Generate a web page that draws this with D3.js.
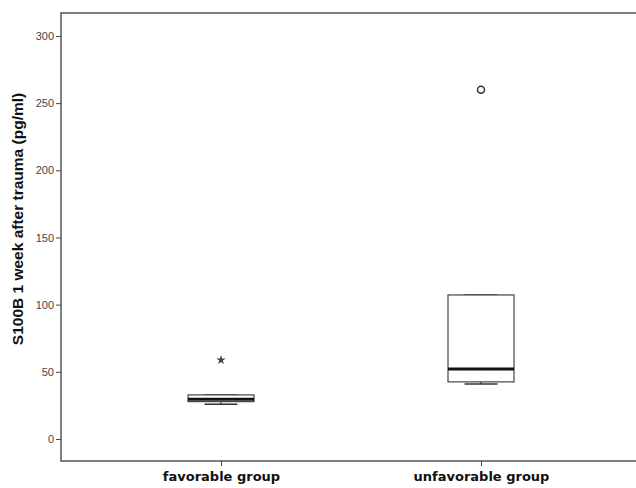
<!DOCTYPE html>
<html><head><meta charset="utf-8">
<script src="https://cdn.jsdelivr.net/npm/d3@7"></script>
<style>html,body{margin:0;padding:0;background:#fff;overflow:hidden}svg{display:block}</style>
</head><body>
<script>
const categories = ["favorable group", "unfavorable group"];
const q1 = [27.8, 42.5];
const median = [29.6, 52.1];
const q3 = [32.8, 107.2];
const whiskerLow = [25.8, 40.9];
const whiskerHigh = [32.8, 107.2];
const extremes = [[58.8], []];   // asterisk
const outliers = [[], [260]];    // circle
const yTicks = [0, 50, 100, 150, 200, 250, 300];

const W = 636, H = 488;
const mLeft = 61, mTop = 13, mRight = 700, mBottom = 461;
const svg = d3.select("body").append("svg").attr("width", W).attr("height", H);

const y = d3.scaleLinear().domain([-16.4, 317.1]).range([mBottom, mTop]);
const x = d3.scalePoint().domain(categories).range([221, 481]);
const boxW = 66;

// frame (right side lies outside the picture)
svg.append("path").attr("d", `M${mRight},${mTop}H${mLeft}V${mBottom}H${mRight}`)
  .attr("fill", "none").attr("stroke", "#555").attr("stroke-width", 1.5);

// y axis
const ya = svg.append("g").attr("transform", `translate(${mLeft},0)`)
  .call(d3.axisLeft(y).tickValues(yTicks).tickSize(5).tickPadding(2).tickFormat(d3.format("d")));
ya.select(".domain").remove();
ya.selectAll("line").attr("stroke", "#444");
ya.selectAll("text").attr("font-family", "Arial, 'Liberation Sans', sans-serif").attr("font-size", 11).attr("fill", "#444");

// x axis
const xa = svg.append("g").attr("transform", `translate(0,${mBottom})`)
  .call(d3.axisBottom(x).tickSize(5).tickPadding(6));
xa.select(".domain").remove();
xa.selectAll("line").attr("stroke", "#444");
xa.selectAll("text").attr("font-family", "'DejaVu Sans', sans-serif").attr("font-weight", "bold")
  .attr("font-size", 13).attr("fill", "#111");

// y title
svg.append("text").attr("transform", `translate(23,219) rotate(-90)`).attr("text-anchor", "middle")
  .attr("font-family", "Arial, 'Liberation Sans', sans-serif").attr("font-weight", "bold").attr("font-size", 15.5)
  .attr("fill", "#111").text("S100B 1 week after trauma (pg/ml)");

categories.forEach((c, i) => {
  const cx = x(c);
  const g = svg.append("g");
  g.append("line").attr("x1", cx).attr("x2", cx).attr("y1", y(whiskerLow[i])).attr("y2", y(q1[i])).attr("stroke", "#333").attr("stroke-width", 1.2);
  g.append("line").attr("x1", cx).attr("x2", cx).attr("y1", y(whiskerHigh[i])).attr("y2", y(q3[i])).attr("stroke", "#333").attr("stroke-width", 1.2);
  g.append("line").attr("x1", cx - boxW / 4).attr("x2", cx + boxW / 4).attr("y1", y(whiskerLow[i])).attr("y2", y(whiskerLow[i])).attr("stroke", "#333").attr("stroke-width", 1.5);
  g.append("line").attr("x1", cx - boxW / 4).attr("x2", cx + boxW / 4).attr("y1", y(whiskerHigh[i])).attr("y2", y(whiskerHigh[i])).attr("stroke", "#333").attr("stroke-width", 1.5);
  g.append("rect").attr("x", cx - boxW / 2).attr("y", y(q3[i])).attr("width", boxW).attr("height", y(q1[i]) - y(q3[i]))
    .attr("fill", "#fff").attr("stroke", "#444").attr("stroke-width", 1.2);
  g.append("line").attr("x1", cx - boxW / 2).attr("x2", cx + boxW / 2).attr("y1", y(median[i])).attr("y2", y(median[i]))
    .attr("stroke", "#111").attr("stroke-width", 3);
  outliers[i].forEach(v => {
    g.append("circle").attr("cx", cx).attr("cy", y(v)).attr("r", 3.5).attr("fill", "#fff").attr("stroke", "#333").attr("stroke-width", 1.5);
  });
  extremes[i].forEach(v => {
    g.append("path").attr("transform", `translate(${cx},${y(v)})`).attr("d", d3.symbol(d3.symbolStar, 28)())
      .attr("fill", "#444");
  });
});
</script>
</body></html>
